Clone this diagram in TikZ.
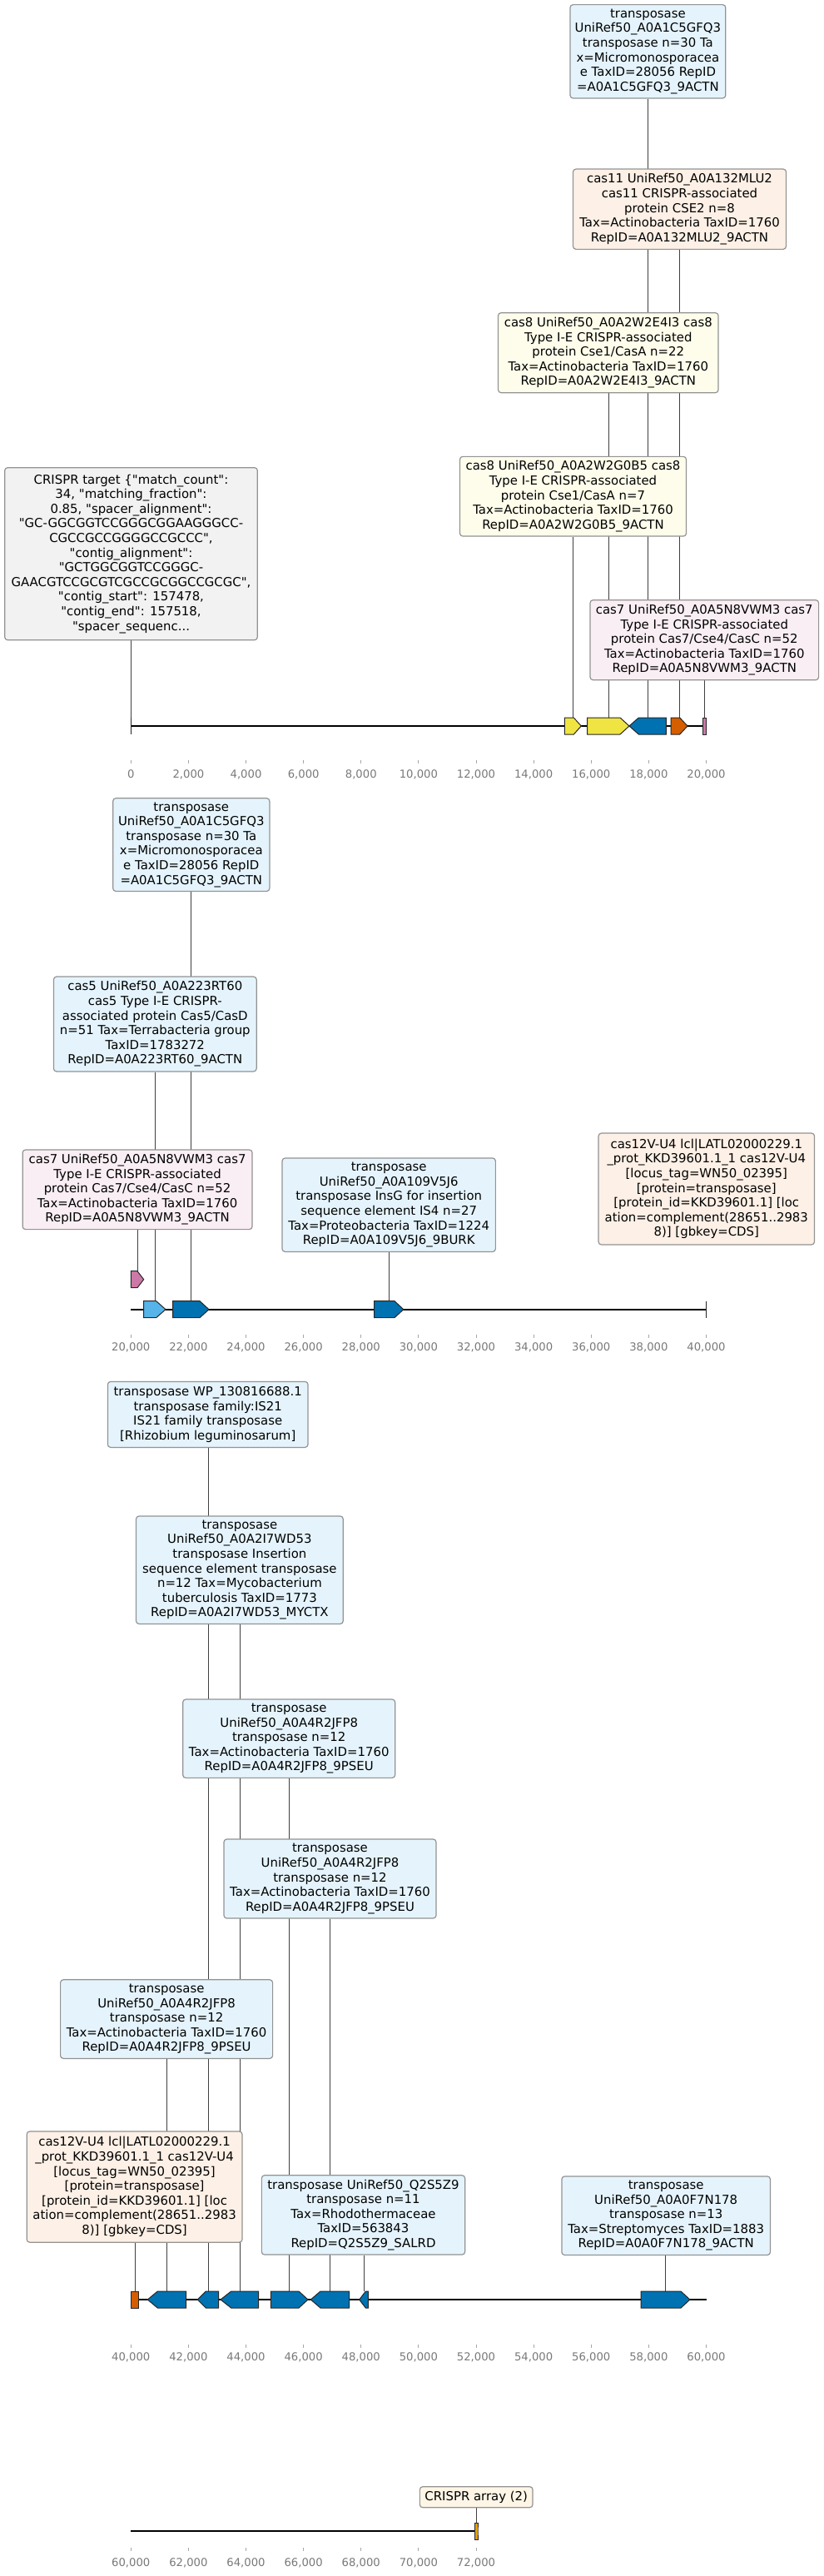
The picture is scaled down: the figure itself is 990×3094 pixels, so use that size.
\documentclass[tikz,border=0pt]{standalone}
\usepackage{fontspec}
\setmainfont{DejaVu Sans}[Ligatures=TeXOff]
\usepackage{tikz}
\usetikzlibrary{backgrounds}

\definecolor{cyel}{HTML}{F0E442}
\definecolor{cblu}{HTML}{0072B2}
\definecolor{csky}{HTML}{56B4E9}
\definecolor{cver}{HTML}{D55E00}
\definecolor{cpnk}{HTML}{CC79A7}
\definecolor{corg}{HTML}{E69F00}
\definecolor{fblu}{RGB}{229,244,252}
\definecolor{fpch}{RGB}{253,240,230}
\definecolor{fyel}{RGB}{254,253,235}
\definecolor{fpnk}{RGB}{249,238,243}
\definecolor{fgry}{RGB}{242,242,242}
\definecolor{fcrm}{RGB}{253,245,230}

% back end, body end, tip, y, colour
\newcommand{\gene}[5]{%
  \draw[genebody, fill=#5] (#1,#4-10) -- (#2,#4-10) -- (#3,#4) -- (#2,#4+10) -- (#1,#4+10) -- cycle;}
% tick top, label y, first value, number of steps
\newcommand{\ticks}[4]{%
  \foreach \k in {0,...,#4}{
    \pgfmathsetmacro\tx{157.3+69.12*\k}
    \edef\tv{\the\numexpr#3+2000*\k\relax}
    \draw[tickln] (\tx,#1) -- (\tx,#1+4);
    \node[ticklbl] at (\tx,#2) {\pgfmathprintnumber[fixed,precision=0,1000 sep={,},assume math mode=true]{\tv}};
  }}

\tikzset{
  lbl/.style={draw=gray!85, line width=1.2pt, rounded corners=3.5pt, align=center,
    inner xsep=4pt, inner ysep=0pt, font=\fontsize{14.9pt}{17.6pt}\selectfont},
  sz/.style 2 args={minimum width=#1pt, minimum height=#2pt},
  genebody/.style={draw=black!85, line width=1pt},
  spine/.style={line width=2pt, black},
  conn/.style={line width=0.8pt, black!75},
  tickln/.style={line width=0.9pt, gray!70},
  ticklbl/.style={inner sep=0pt, text height=9.6pt, text depth=0pt, text=gray!95!black,
    font=\fontsize{13.2pt}{15pt}\selectfont}
}

\begin{document}
\begin{tikzpicture}[x=1pt, y=-1pt]
\useasboundingbox (0,0) rectangle (990,3094);

% ---- 0 - 20,000
\node[lbl, fill=fblu, sz={186.8}{112.3}] (t1a) at (778.4,61.8) {transposase\\UniRef50\_A0A1C5GFQ3\\transposase n=30 Ta\\x=Micromonosporacea\\e TaxID=28056 RepID\\=A0A1C5GFQ3\_9ACTN};
\node[lbl, fill=fpch, sz={256}{96.3}] (t1b) at (816.5,251.2) {cas11 UniRef50\_A0A132MLU2\\cas11 CRISPR-associated\\protein CSE2 n=8\\Tax=Actinobacteria TaxID=1760\\RepID=A0A132MLU2\_9ACTN};
\node[lbl, fill=fyel, sz={264.5}{96}] (t1c) at (730.8,423.7) {cas8 UniRef50\_A0A2W2E4I3 cas8\\Type I-E CRISPR-associated\\protein Cse1/CasA n=22\\Tax=Actinobacteria TaxID=1760\\RepID=A0A2W2E4I3\_9ACTN};
\node[lbl, fill=fyel, sz={272}{95.7}] (t1d) at (688.5,596.2) {cas8 UniRef50\_A0A2W2G0B5 cas8\\Type I-E CRISPR-associated\\protein Cse1/CasA n=7\\Tax=Actinobacteria TaxID=1760\\RepID=A0A2W2G0B5\_9ACTN};
\node[lbl, fill=fpnk, sz={274.6}{96}] (t1e) at (846.3,768.7) {cas7 UniRef50\_A0A5N8VWM3 cas7\\Type I-E CRISPR-associated\\protein Cas7/Cse4/CasC n=52\\Tax=Actinobacteria TaxID=1760\\RepID=A0A5N8VWM3\_9ACTN};
\node[lbl, fill=fgry, sz={303.6}{207}] (t1f) at (157.5,665.2) {CRISPR target \{"match\_count":\\34, "matching\_fraction":\\0.85, "spacer\_alignment":\\"GC-GGCGGTCCGGGCGGAAGGGCC-\\CGCCGCCGGGGCCGCCC",\\"contig\_alignment":\\"GCTGGCGGTCCGGGC-\\GAACGTCCGCGTCGCCGCGGCCGCGC",\\"contig\_start": 157478,\\"contig\_end": 157518,\\"spacer\_sequenc...};

\draw[spine] (157.3,872) -- (848.5,872);
\draw[genebody] (157.3,862) -- (157.3,882);
\coordinate (g1f) at (157.3,862);
\gene{678.3}{689.3}{698.3}{872}{cyel} \coordinate (g1d) at (688.3,862);
\gene{705.7}{745}{756}{872}{cyel} \coordinate (g1c) at (730.9,862);
\gene{800.3}{767.3}{756}{872}{cblu} \coordinate (g1a) at (778.2,862);
\gene{806}{816.7}{826}{872}{cver} \coordinate (g1b) at (816,862);
\gene{844.3}{848.7}{848.7}{872}{cpnk} \coordinate (g1e) at (846.5,862);
\ticks{913}{930}{0}{10}

% ---- 20,000 - 40,000
\node[lbl, fill=fblu, sz={188.2}{111.7}] (t2a) at (229.8,1014.6) {transposase\\UniRef50\_A0A1C5GFQ3\\transposase n=30 Ta\\x=Micromonosporacea\\e TaxID=28056 RepID\\=A0A1C5GFQ3\_9ACTN};
\node[lbl, fill=fblu, sz={243.7}{113.9}] (t2b) at (186.3,1230) {cas5 UniRef50\_A0A223RT60\\cas5 Type I-E CRISPR-\\associated protein Cas5/CasD\\n=51 Tax=Terrabacteria group\\TaxID=1783272\\RepID=A0A223RT60\_9ACTN};
\node[lbl, fill=fpnk, sz={275.9}{95.6}] (t2c) at (165.1,1428.8) {cas7 UniRef50\_A0A5N8VWM3 cas7\\Type I-E CRISPR-associated\\protein Cas7/Cse4/CasC n=52\\Tax=Actinobacteria TaxID=1760\\RepID=A0A5N8VWM3\_9ACTN};
\node[lbl, fill=fblu, sz={256.3}{112.5}] (t2d) at (467.2,1447.2) {transposase\\UniRef50\_A0A109V5J6\\transposase InsG for insertion\\sequence element IS4 n=27\\Tax=Proteobacteria TaxID=1224\\RepID=A0A109V5J6\_9BURK};
\node[lbl, fill=fpch, sz={259.5}{133.9}] (t2e) at (848.8,1428) {cas12V-U4 lcl|LATL02000229.1\\\_prot\_KKD39601.1\_1 cas12V-U4\\{}[locus\_tag=WN50\_02395]\\{}[protein=transposase]\\{}[protein\_id=KKD39601.1] [loc\\ation=complement(28651..2983\\8)] [gbkey=CDS]};

\draw[spine] (157.3,1572.7) -- (848.5,1572.7);
\draw[genebody] (848.5,1562.7) -- (848.5,1582.7);
\gene{157.3}{165}{172.7}{1536.7}{cpnk} \coordinate (g2c) at (165,1526.7);
\gene{172.7}{187.7}{199}{1572.7}{csky} \coordinate (g2b) at (185.9,1562.7);
\gene{207.7}{240}{251}{1572.7}{cblu} \coordinate (g2a) at (229.4,1562.7);
\gene{449.5}{474}{484.8}{1572.7}{cblu} \coordinate (g2d) at (467.2,1562.7);
\ticks{1602.7}{1617.7}{20000}{10}

% ---- 40,000 - 60,000
\node[lbl, fill=fblu, sz={240.6}{79}] (t3a) at (249.7,1698.9) {transposase WP\_130816688.1\\transposase family:IS21\\IS21 family transposase\\{}[Rhizobium leguminosarum]};
\node[lbl, fill=fblu, sz={248.8}{129.4}] (t3b) at (287.9,1885.7) {transposase\\UniRef50\_A0A2I7WD53\\transposase Insertion\\sequence element transposase\\n=12 Tax=Mycobacterium\\tuberculosis TaxID=1773\\RepID=A0A2I7WD53\_MYCTX};
\node[lbl, fill=fblu, sz={255}{94.3}] (t3c) at (347.2,2088.2) {transposase\\UniRef50\_A0A4R2JFP8\\transposase n=12\\Tax=Actinobacteria TaxID=1760\\RepID=A0A4R2JFP8\_9PSEU};
\node[lbl, fill=fblu, sz={255}{95}] (t3d) at (396.5,2256.5) {transposase\\UniRef50\_A0A4R2JFP8\\transposase n=12\\Tax=Actinobacteria TaxID=1760\\RepID=A0A4R2JFP8\_9PSEU};
\node[lbl, fill=fblu, sz={255}{94.6}] (t3e) at (200.1,2425.1) {transposase\\UniRef50\_A0A4R2JFP8\\transposase n=12\\Tax=Actinobacteria TaxID=1760\\RepID=A0A4R2JFP8\_9PSEU};
\node[lbl, fill=fpch, sz={258.8}{133.2}] (t3f) at (161.6,2626.6) {cas12V-U4 lcl|LATL02000229.1\\\_prot\_KKD39601.1\_1 cas12V-U4\\{}[locus\_tag=WN50\_02395]\\{}[protein=transposase]\\{}[protein\_id=KKD39601.1] [loc\\ation=complement(28651..2983\\8)] [gbkey=CDS]};
\node[lbl, fill=fblu, sz={244.3}{95.3}] (t3g) at (436.5,2660.4) {transposase UniRef50\_Q2S5Z9\\transposase n=11\\Tax=Rhodothermaceae\\TaxID=563843\\RepID=Q2S5Z9\_SALRD};
\node[lbl, fill=fblu, sz={250.6}{94.5}] (t3h) at (800.2,2661.2) {transposase\\UniRef50\_A0A0F7N178\\transposase n=13\\Tax=Streptomyces TaxID=1883\\RepID=A0A0F7N178\_9ACTN};

\draw[spine] (157.3,2762) -- (848.5,2762);
\gene{157.3}{166.7}{166.7}{2762}{cver} \coordinate (g3f) at (162,2752);
\gene{223.7}{189.3}{177.3}{2762}{cblu} \coordinate (g3e) at (200.5,2752);
\gene{262.7}{247.3}{237.3}{2762}{cblu} \coordinate (g3a) at (250,2752);
\gene{310.7}{277.7}{265}{2762}{cblu} \coordinate (g3b) at (287.9,2752);
\gene{325.3}{359}{370}{2762}{cblu} \coordinate (g3c) at (347.7,2752);
\gene{419.7}{385}{373.3}{2762}{cblu} \coordinate (g3d) at (396.5,2752);
\gene{442.3}{439.3}{431.7}{2762}{cblu} \coordinate (g3g) at (437,2752);
\gene{770.2}{818}{828.9}{2762}{cblu} \coordinate (g3h) at (799.5,2752);
\ticks{2816}{2831}{40000}{10}

% ---- 60,000 - 72,000
\node[lbl, fill=fcrm, sz={135.7}{25}] (t4a) at (572.2,2999.2) {CRISPR array (2)};
\draw[spine] (157.3,3040) -- (574,3040);
\gene{570.7}{574}{574}{3040}{corg} \coordinate (g4a) at (572.3,3030);
\ticks{3060}{3077.3}{60000}{6}

\begin{scope}[on background layer]
  \foreach \g/\t in {g1a/t1a, g1b/t1b, g1c/t1c, g1d/t1d, g1e/t1e, g1f/t1f,
                     g2a/t2a, g2b/t2b, g2c/t2c, g2d/t2d,
                     g3a/t3a, g3b/t3b, g3c/t3c, g3d/t3d, g3e/t3e, g3f/t3f, g3g/t3g, g3h/t3h,
                     g4a/t4a}
    \draw[conn] (\g) -- (\t.south -| \g);
\end{scope}
\end{tikzpicture}
\end{document}
